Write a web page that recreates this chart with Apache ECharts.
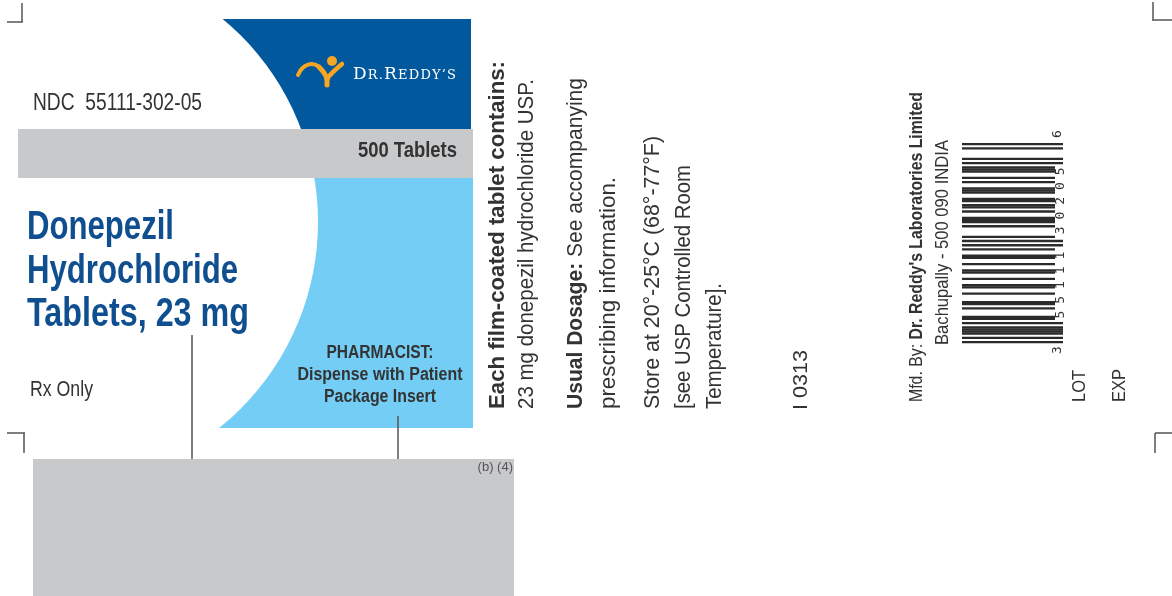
<!DOCTYPE html>
<html><head><meta charset="utf-8">
<script src="https://cdn.jsdelivr.net/npm/echarts@6/dist/echarts.min.js"></script>
<style>html,body{margin:0;padding:0;background:#fff}#c{width:1172px;height:596px}</style>
</head><body><div id="c"></div>
<script>
// ---- content (data) ----
const ndcText = 'NDC  55111-302-05';
const countText = '500 Tablets';
const titleLines = ['Donepezil', 'Hydrochloride', 'Tablets, 23 mg'];
const rxText = 'Rx Only';
const pharmacistLines = ['PHARMACIST:', 'Dispense with Patient', 'Package Insert'];
const codeNote = '(b) (4)';
const sideColumn1 = ['{b|Each film-coated tablet contains:}', '23 mg donepezil hydrochloride USP.'];
const sideColumn2 = ['{b|Usual Dosage:} See accompanying', 'prescribing information.'];
const sideColumn3 = ['Store at 20°-25°C (68°-77°F)', '[see USP Controlled Room', 'Temperature].'];
const lotCode = 'I 0313';
const mfdLines = ["Mfd. By: {b|Dr. Reddy's Laboratories Limited}", 'Bachupally - 500 090 INDIA'];
const upcDigits = [3, 5, 5, 1, 1, 1, 3, 0, 2, 0, 5, 6];
const lotExp = ['LOT', 'EXP'];
const brandLetters = [['D', 1], ['R', 0], ['.', 0], ['R', 1], ['E', 0], ['D', 0], ['D', 0], ['Y', 0], ['\u2019', 0], ['S', 0]];

// ---- styles ----
const SANS = '"Liberation Sans",Arial,sans-serif';
const DARK = '#333333';
const TITLE = '#0f4f8f';
const BLUE = '#02589c';
const LIGHT = '#73cdf4';
const GRAY = '#c8c9cb';
const ORANGE = '#f6a623';

const mctx = document.createElement('canvas').getContext('2d');
function measure(str, font) { mctx.font = font; return mctx.measureText(str).width; }
function parseRich(str) {
  const segs = []; const re = /\{b\|([^}]*)\}/g; let last = 0, m;
  while ((m = re.exec(str))) { if (m.index > last) segs.push([str.slice(last, m.index), 0]); segs.push([m[1], 1]); last = re.lastIndex; }
  if (last < str.length) segs.push([str.slice(last), 0]);
  return segs;
}

const els = [];
function rect(x, y, w, h, fill) {
  els.push({ type: 'rect', shape: { x, y, width: w, height: h }, style: { fill } });
}
function line(x1, y1, x2, y2, w, c) {
  els.push({ type: 'line', shape: { x1, y1, x2, y2 }, style: { stroke: c || '#555', lineWidth: w || 1.5, lineCap: 'butt' } });
}
function curve(x1, y1, c1x, c1y, c2x, c2y, x2, y2, w) {
  els.push({ type: 'bezierCurve', shape: { x1, y1, cpx1: c1x, cpy1: c1y, cpx2: c2x, cpy2: c2y, x2, y2 },
    style: { stroke: ORANGE, lineWidth: w || 4.5, fill: null, lineCap: 'round' } });
}
// text fitted to a target length (length measured along the text direction)
function text(x, y, str, o) {
  o = o || {};
  const size = o.size || 16, fam = o.family || SANS, wt = o.weight || 'normal';
  const segs = parseRich(str);
  let w = 0;
  segs.forEach(s => { w += measure(s[0], (s[1] ? 'bold' : wt) + ' ' + size + 'px ' + fam); });
  const sx = o.len ? o.len / w : (o.sx || 1);
  els.push({
    type: 'text', x, y, rotation: o.rot || 0, scaleX: sx,
    style: {
      text: str, fill: o.fill || DARK,
      font: wt + ' ' + size + 'px ' + fam,
      align: o.align || 'left', verticalAlign: o.va || 'middle',
      textAlign: o.align || 'left', textVerticalAlign: o.va || 'middle',
      rich: { b: { fontWeight: 'bold', fontSize: size, fontFamily: fam, fill: o.fill || DARK } }
    }
  });
}

// coloured panels
rect(222, 19, 249, 111, BLUE);
rect(216, 178, 257, 250, LIGHT);
els.push({ type: 'circle', shape: { cx: 54, cy: 222, r: 264 }, style: { fill: '#ffffff' } });
rect(18, 129, 455, 49, GRAY);

// crop marks
line(7, 22, 23, 22, 1.5); line(22, 3, 22, 22, 1.5);
line(7, 433, 25, 433, 1.5); line(24, 433, 24, 453, 1.5);
line(1153, 2, 1153, 21, 1.5); line(1153, 20, 1172, 20, 1.5);
line(1155, 433, 1172, 433, 1.5); line(1155, 433, 1155, 453, 1.5);

// logo
curve(298, 75, 303, 63, 313, 62, 319, 67, 4);
curve(319, 67, 323, 71, 326, 75, 327, 79, 5);
curve(342, 64, 336, 69, 330, 74, 327, 79, 4.5);
els.push({ type: 'line', shape: { x1: 327, y1: 78, x2: 327, y2: 85 }, style: { stroke: ORANGE, lineWidth: 5, lineCap: 'round' } });
els.push({ type: 'circle', shape: { cx: 332, cy: 61, r: 5 }, style: { fill: ORANGE } });
(function () {
  const fam = '"DejaVu Serif","Liberation Serif",serif';
  const sizes = brandLetters.map(l => (l[1] ? 17 : 13));
  const fonts = sizes.map(s => s + 'px ' + fam);
  const ws = brandLetters.map((l, i) => measure(l[0], fonts[i]));
  const total = ws.reduce((a, b) => a + b, 0);
  const gap = (103 - total) / (brandLetters.length - 1);
  let x = 353;
  brandLetters.forEach((l, i) => {
    els.push({ type: 'text', x, y: 79 + 0.24 * sizes[i], style: { text: l[0], font: fonts[i], fill: '#fff', align: 'left', verticalAlign: 'bottom', textAlign: 'left', textVerticalAlign: 'bottom' } });
    x += ws[i] + gap;
  });
})();

// left panel texts
text(33, 104, ndcText, { size: 23, len: 169 });
text(457, 151, countText, { size: 22, weight: 'bold', align: 'right', len: 99 });
const titleLens = [147, 211, 222];
titleLines.forEach((t, i) => text(27, 228 + i * 43.5, t, { size: 40, weight: 'bold', fill: TITLE, len: titleLens[i] }));
text(30, 390, rxText, { size: 22, len: 63 });
const pharmLens = [107, 165, 112];
pharmacistLines.forEach((t, i) => text(380, 353 + i * 22, t, { size: 18, weight: 'bold', align: 'center', len: pharmLens[i] }));

// leader lines and bottom box
line(192, 335, 192, 460, 1.5);
line(398, 416, 398, 460, 1.5);
rect(33, 459, 481, 137, GRAY);
text(513, 467, codeNote, { size: 13, align: 'right', fill: '#555' });

// rotated columns
const R = Math.PI / 2;
const c1Lens = [348, 330];
sideColumn1.forEach((t, i) => text(498 + i * 29, 409, t, { rot: R, size: 22, len: c1Lens[i] }));
const c2Lens = [331, 232];
sideColumn2.forEach((t, i) => text(576 + i * 33, 409, t, { rot: R, size: 22, len: c2Lens[i] }));
const c3Lens = [273, 244, 126];
sideColumn3.forEach((t, i) => text(653 + i * 31, 409, t, { rot: R, size: 22, len: c3Lens[i] }));
text(801, 410, lotCode, { rot: R, size: 21, len: 60 });
const mLens = [310, 205];
mfdLines.forEach((t, i) => text(917 + i * 26, 402 - i * 57, t, { rot: R, size: 18, len: mLens[i] }));
lotExp.forEach((t, i) => text(1080 + i * 40, 402, t, { rot: R, size: 19, len: [32, 33][i] }));

// UPC-A barcode (rotated, reading bottom to top)
const L = ['0001101','0011001','0010011','0111101','0100011','0110001','0101111','0111011','0110111','0001011'];
const inv = s => s.split('').map(c => c === '1' ? '0' : '1').join('');
let mods = '101';
const longFlags = [1, 1, 1];
upcDigits.slice(0, 6).forEach((d, i) => { mods += L[d]; for (let k = 0; k < 7; k++) longFlags.push(i === 0 ? 1 : 0); });
mods += '01010'; for (let k = 0; k < 5; k++) longFlags.push(1);
upcDigits.slice(6).forEach((d, i) => { mods += inv(L[d]); for (let k = 0; k < 7; k++) longFlags.push(i === 5 ? 1 : 0); });
mods += '101'; longFlags.push(1, 1, 1);
const bottomY = 343, mH = 200 / 95, barX = 962;
for (let i = 0; i < mods.length; i++) {
  if (mods[i] === '1') {
    const w = longFlags[i] ? 101 : 93;
    rect(barX, bottomY - (i + 1) * mH, w, mH + 0.25, '#2b2b2b');
  }
}
const dFont = '"DejaVu Sans Mono",monospace';
text(1058, 350, String(upcDigits[0]), { rot: R, size: 13, family: dFont, align: 'center' });
text(1058, 134, String(upcDigits[11]), { rot: R, size: 13, family: dFont, align: 'center' });
upcDigits.slice(1, 6).forEach((d, i) => {
  const m = 3 + 7 * (i + 1) + 3.5; text(1061, bottomY - m * mH, String(d), { rot: R, size: 13, family: dFont, align: 'center' });
});
upcDigits.slice(6, 11).forEach((d, i) => {
  const m = 50 + 7 * i + 3.5; text(1061, bottomY - m * mH, String(d), { rot: R, size: 13, family: dFont, align: 'center' });
});

const chart = echarts.init(document.getElementById('c'), null, { renderer: 'canvas' });
chart.setOption({ animation: false, graphic: { elements: els } });
</script></body></html>
